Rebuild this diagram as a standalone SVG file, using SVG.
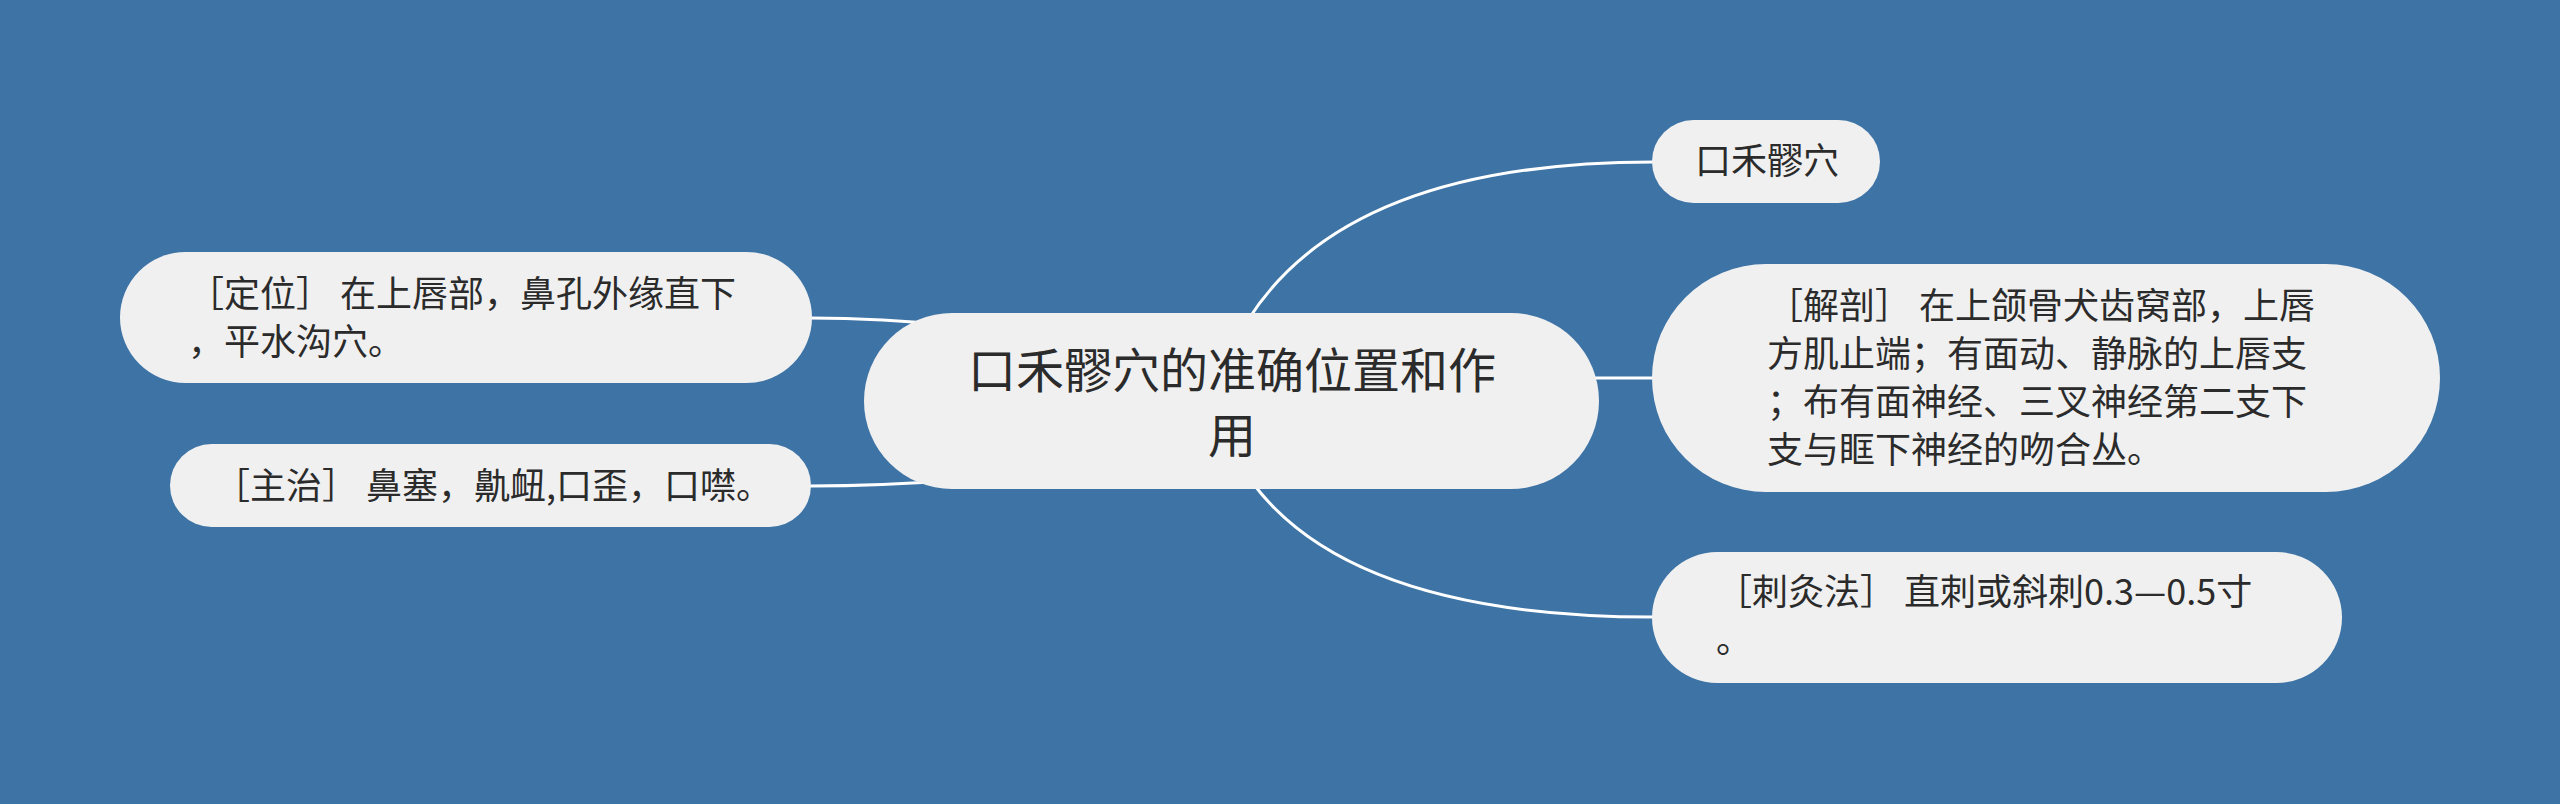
<svg xmlns="http://www.w3.org/2000/svg" width="2560" height="804" viewBox="0 0 2560 804">
<style>
.bg{fill:#3d73a5}
.node{fill:#f0f0f0}
.t{font-family:"Noto Sans CJK SC","Noto Sans",sans-serif;fill:#2b2b2b;font-size:36px}
.tc{font-family:"Noto Sans CJK SC","Noto Sans",sans-serif;fill:#2b2b2b;font-size:48px;text-anchor:middle}
.edge{fill:none;stroke:#ffffff;stroke-width:3;stroke-linecap:round}
</style>
<rect class="bg" x="0" y="0" width="2560" height="804"/>
<g id="connectors">
  <path class="edge" d="M1248,320 Q1348,162 1654,162"/>
  <path class="edge" d="M1252,482 Q1352,617 1654,617"/>
  <path class="edge" d="M1590,378 L1654,378"/>
  <path class="edge" d="M810,318 Q880,318 960,326"/>
  <path class="edge" d="M810,486 Q880,486 960,480"/>
</g>
<g id="center">
  <rect class="node" x="864" y="313" width="735" height="176" rx="88" ry="88"/>
  <text class="tc" x="1232" y="388">口禾髎穴的准确位置和作</text>
  <text class="tc" x="1232" y="453">用</text>
</g>
<g id="n-name">
  <rect class="node" x="1652" y="120" width="228" height="83" rx="41.5" ry="41.5"/>
  <text class="t" x="1695" y="174">口禾髎穴</text>
</g>
<g id="n-anatomy">
  <rect class="node" x="1652" y="264" width="788" height="228" rx="114" ry="114"/>
  <text class="t" x="1767" y="319">［解剖］ 在上颌骨犬齿窝部，上唇</text>
  <text class="t" x="1767" y="367">方肌止端；有面动、静脉的上唇支</text>
  <text class="t" x="1767" y="415">；布有面神经、三叉神经第二支下</text>
  <text class="t" x="1767" y="463">支与眶下神经的吻合丛。</text>
</g>
<g id="n-needling">
  <rect class="node" x="1652" y="552" width="690" height="131" rx="65.5" ry="65.5"/>
  <text class="t" x="1716" y="605">［刺灸法］ 直刺或斜刺0.3—0.5寸</text>
  <text class="t" x="1716" y="653">。</text>
</g>
<g id="n-location">
  <rect class="node" x="120" y="252" width="692" height="131" rx="65.5" ry="65.5"/>
  <text class="t" x="188" y="307">［定位］ 在上唇部，鼻孔外缘直下</text>
  <text class="t" x="188" y="355">，平水沟穴。</text>
</g>
<g id="n-indication">
  <rect class="node" x="170" y="444" width="641" height="83" rx="41.5" ry="41.5"/>
  <text class="t" x="214" y="499">［主治］ 鼻塞，鼽衄,口歪，口噤。</text>
</g>
</svg>
